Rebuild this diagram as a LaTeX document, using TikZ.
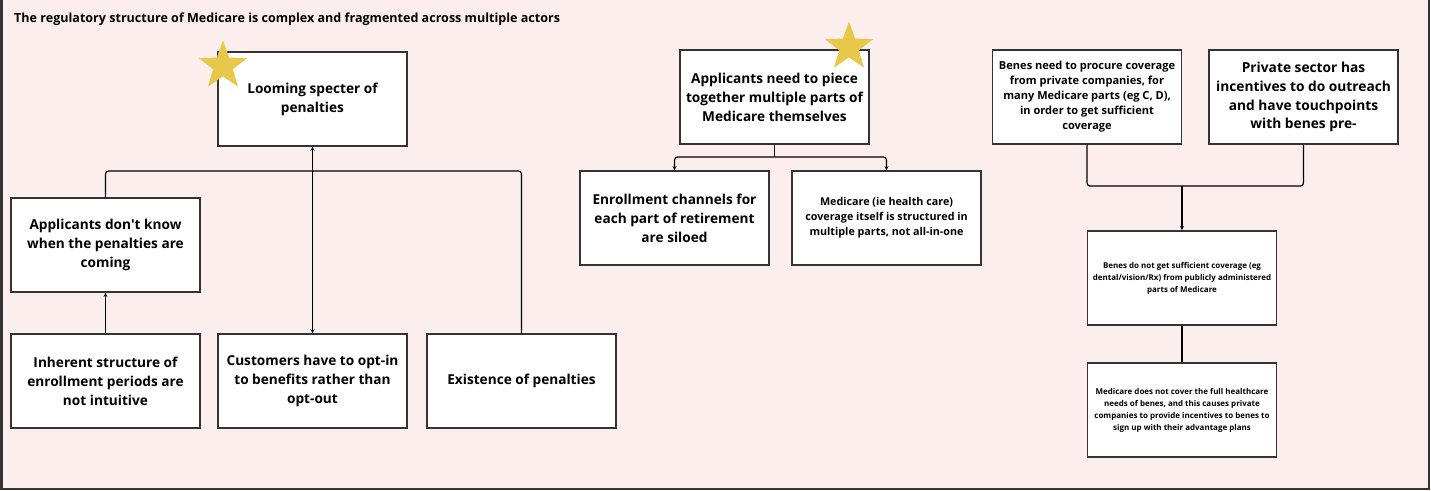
\documentclass[tikz,border=0pt]{standalone}
\usepackage{fontspec}
\setmainfont{Open Sans}
\usepackage{xcolor}
\usepackage{tikz}
\usetikzlibrary{positioning,shapes.geometric,arrows.meta}

\definecolor{bgpink}{HTML}{FDEEEE}
\definecolor{stargold}{HTML}{E7C84B}
\definecolor{edgegray}{HTML}{333333}

\tikzset{
  cardbox/.style={draw=edgegray, line width=1.7bp, fill=white,
    minimum width=189bp, minimum height=94bp, inner sep=0pt,
    align=center, font=\bfseries\fontsize{13.7}{19}\selectfont},
  smalltext/.style={font=\bfseries\fontsize{10.8}{15}\selectfont},
  procuretext/.style={font=\bfseries\fontsize{11.1}{15}\selectfont},
  tinytext/.style={font=\bfseries\fontsize{8}{12}\selectfont},
  bigtext/.style={font=\bfseries\fontsize{13.8}{19}\selectfont},
  link/.style={draw=black, line width=1.2bp, rounded corners=3bp},
  arr/.style={link, -{Stealth[length=4bp,width=4bp]}},
  goldstar/.style={star, star points=5, star point ratio=2.45,
    minimum size=51bp, inner sep=0pt, fill=stargold, draw=none}
}

\begin{document}
\begin{tikzpicture}[x=1bp, y=-1bp]
  \useasboundingbox (0,0) rectangle (1431,491);

  % Cadre
  \fill[bgpink] (1.5,-5) rectangle (1428.5,489);
  \draw[edgegray, line width=2bp] (1.5,-5) -- (1.5,489) -- (1428.5,489) -- (1428.5,-5);

  % Titre
  \node[anchor=west, inner sep=0pt, font=\bfseries\fontsize{12.6}{14}\selectfont]
    (title) at (14,19) {The regulatory structure of Medicare is complex and fragmented across multiple actors};

  % Groupe de gauche : penalites
  \node[cardbox] (loom) at (312.5,99) {Looming specter of\\penalties};
  \node[cardbox] (dontknow) at (105.5,245) {Applicants don\textquotesingle t know\\when the penalties are\\coming};
  \node[cardbox] (inherent) at (105.5,381) {Inherent structure of\\enrollment periods are\\not intuitive};
  \node[cardbox] (optin) at (312.5,381) {Customers have to opt-in\\to benefits rather than\\opt-out};
  \node[cardbox] (exist) at (521.5,381) {Existence of penalties};
  \node[goldstar] (star1) at (223,66) {};

  \coordinate (busL) at (312.5,171);
  \draw[link] (dontknow.north) |- (busL);
  \draw[link] (exist.north) |- (busL);
  \draw[{Stealth[length=4bp,width=4bp]}-{Stealth[length=4bp,width=4bp]}, link] (optin.north) -- (loom.south);
  \draw[arr] (inherent.north) -- (dontknow.south);

  % Groupe du milieu : pieces de Medicare
  \node[cardbox] (piece) at (774.5,97) {Applicants need to piece\\together multiple parts of\\Medicare themselves};
  \node[cardbox] (siloed) at (674.5,218) {Enrollment channels for\\each part of retirement\\are siloed};
  \node[cardbox, smalltext] (parts) at (886.5,218) {Medicare (ie health care)\\coverage itself is structured in\\multiple parts, not all-in-one};
  \node[goldstar] (star2) at (849,47) {};

  \coordinate (busM) at (774.5,157);
  \draw[link] (piece.south) -- (busM);
  \draw[arr] (busM) -| (siloed.north);
  \draw[arr] (busM) -| (parts.north);

  % Groupe de droite : secteur prive
  \node[cardbox, procuretext] (procure) at (1087,97) {Benes need to procure coverage\\from private companies, for\\many Medicare parts (eg C, D),\\in order to get sufficient\\coverage};
  \node[cardbox, bigtext] (private) at (1303.5,97) {Private sector has\\incentives to do outreach\\and have touchpoints\\with benes pre-};
  \node[cardbox, tinytext] (nocover) at (1182,278) {Benes do not get sufficient coverage (eg\\dental/vision/Rx) from publicly administered\\parts of Medicare};
  \node[cardbox, tinytext] (fullneeds) at (1182,410) {Medicare does not cover the full healthcare\\needs of benes, and this causes private\\companies to provide incentives to benes to\\sign up with their advantage plans};

  \coordinate (busR) at (1182,186);
  \draw[link] (procure.south) |- (busR);
  \draw[link] (private.south) |- (busR);
  \draw[arr] (busR) -- (nocover.north);
  \draw[link] (nocover.south) -- (fullneeds.north);
\end{tikzpicture}
\end{document}
